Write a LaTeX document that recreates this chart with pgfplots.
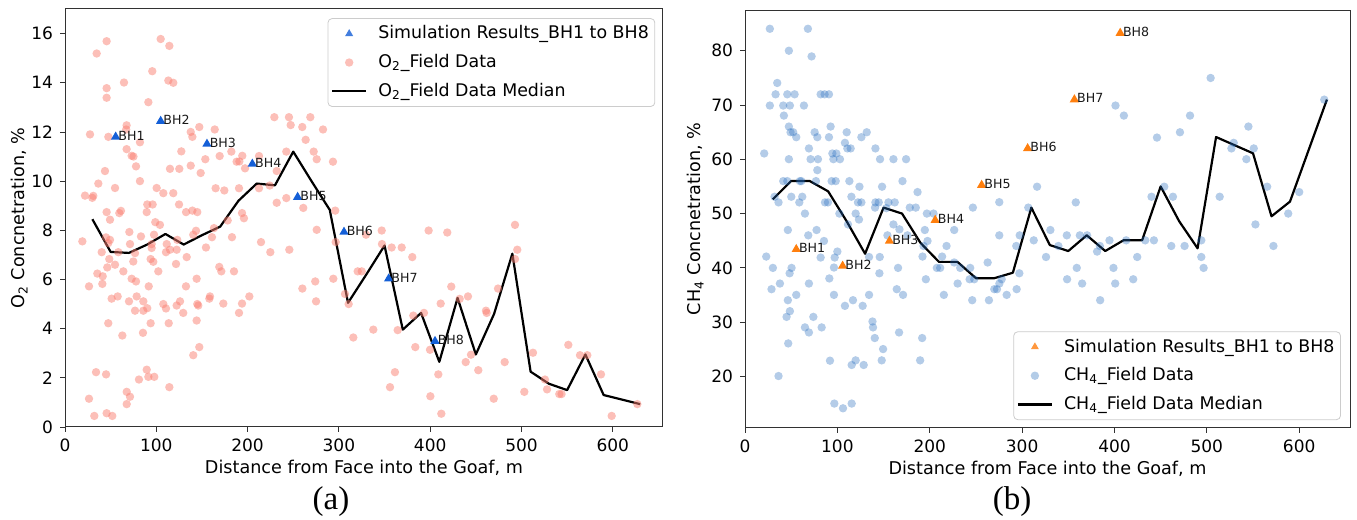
\documentclass[border=0pt]{standalone}
\usepackage{fontspec}
\setmainfont{DejaVu Sans}
\newfontfamily\serifpanel{Liberation Serif}
\usepackage{pgfplots}
\pgfplotsset{compat=1.18}
\definecolor{simblue}{RGB}{20,95,215}
\definecolor{simorange}{RGB}{255,127,14}
\definecolor{salmonc}{RGB}{250,128,114}
\definecolor{tabblue}{RGB}{40,110,190}
\definecolor{spine}{RGB}{50,50,50}
\newcommand{\tickfs}{\fontsize{8.5}{10}\selectfont}
\newcommand{\labfs}{\fontsize{8.8}{10}\selectfont}
\newcommand{\legfs}{\fontsize{8.7}{10}\selectfont}
\pgfplotsset{
  gstyle/.style={
    scale only axis, anchor=south west,
    xmin=0, xmax=655,
    xtick={0,100,...,600},
    tick align=outside, xtick pos=bottom, ytick pos=left,
    major tick length=2.5pt,
    tick style={spine, line width=0.4pt},
    axis line style={spine, line width=0.5pt},
    every tick label/.append style={font=\tickfs},
    label style={font=\labfs},
    xlabel style={yshift=3pt},
    /pgf/number format/assume math mode=true,
    xlabel={Distance from Face into the Goaf, m},
    legend cell align=left,
    clip=false,
  },
  legstyle/.style={draw=black!20, rounded corners=2pt,
    fill=white, fill opacity=0.8, text opacity=1, font=\legfs,
    inner xsep=1.5pt, inner ysep=2pt, nodes={inner xsep=1.5pt, inner ysep=1.5pt},
    column sep=4pt, row sep=3.3pt},
  fieldstyle/.style 2 args={only marks, mark=*, mark size=2.1pt, color=#1,
    mark options={draw opacity=0, fill=#1, fill opacity=#2}},
  simstyle/.style={only marks, mark=triangle*, mark size=2.7pt, color=#1,
    mark options={draw opacity=0, fill=#1},
    nodes near coords, point meta=explicit symbolic,
    every node near coord/.append style={anchor=west, font=\fontsize{6.3}{7}\selectfont, inner sep=0pt, xshift=1.2pt, yshift=0.6pt, text=black!90}},
  medstyle/.style={black, line width=1.1pt, no markers, line join=round},
}
\begin{document}
\begin{tikzpicture}
\path[use as bounding box] (0,0) rectangle (678.5pt,260pt);
% ---------------- (a) O2 ----------------
\begin{axis}[gstyle, at={(32.5pt,46.5pt)}, width=299pt, height=209pt,
  ymin=0, ymax=17, ytick={0,2,...,16},
  ylabel={O\textsubscript{2} Concnetration, \%}, ylabel shift=-5pt,
  legend style={legstyle, at={(0.987,0.978)}, anchor=north east},
]
\addplot[fieldstyle={salmonc}{0.5}, forget plot] table {
x y
45.6 15.69
34.7 15.19
104.8 15.78
114.3 15.5
95.6 14.47
113.2 14.09
118.6 14.0
64.6 14.01
45.6 13.78
45.6 13.39
91.3 13.21
67.5 12.27
67.0 12.1
27.4 11.9
47.5 11.8
82.1 11.58
147.1 12.2
164.0 12.1
137.7 12.0
139.5 11.8
67.5 11.3
73.0 11.03
75.0 11.0
77.8 10.6
43.8 10.41
82.1 10.0
36.5 9.9
54.8 9.72
21.9 9.41
29.9 9.32
31.0 9.4
100.4 9.72
107.7 9.51
118.6 9.51
90.1 9.05
96.0 9.05
124.9 9.05
132.6 8.74
139.5 8.8
144.9 8.74
45.6 8.74
61.3 8.79
59.5 8.7
89.5 8.74
115.0 10.5
125.2 10.5
137.7 10.63
148.6 10.33
127.4 11.21
153.7 10.89
169.4 11.02
182.2 11.2
188.0 10.79
191.0 10.8
194.2 11.03
197.2 10.52
212.5 11.02
165.0 9.71
174.5 9.62
190.6 9.71
212.5 9.71
224.2 9.82
231.9 10.41
242.4 11.2
229.3 12.6
245.3 12.6
247.2 12.28
268.7 12.6
259.9 12.2
263.6 11.68
282.6 12.1
272.4 11.2
275.7 10.89
293.5 10.79
231.9 9.12
242.4 9.31
261.0 8.91
296.0 8.8
19.0 7.55
49.3 8.43
98.9 8.33
104.0 8.22
70.5 7.93
83.2 7.75
44.9 7.71
49.3 7.61
47.4 7.48
71.2 7.44
94.9 7.44
94.9 7.28
97.5 7.82
111.4 7.44
123.0 7.61
143.5 7.98
140.5 7.82
163.2 8.09
161.0 7.72
178.2 8.4
193.9 8.7
196.0 8.49
182.9 7.72
40.2 7.11
58.4 7.11
76.7 7.07
74.8 6.73
48.5 6.83
46.3 6.49
54.8 6.6
63.9 6.33
35.4 6.24
41.3 6.13
40.9 5.82
26.3 5.72
73.0 6.03
77.8 5.92
93.8 6.83
96.7 6.72
115.0 7.21
122.3 7.21
110.6 7.11
121.6 6.63
133.3 6.91
102.2 6.33
91.7 5.72
144.2 6.03
132.5 5.72
154.4 7.3
169.0 6.51
171.2 6.33
185.1 6.33
51.1 5.22
57.7 5.31
70.1 5.11
78.5 5.31
85.8 5.11
76.7 4.73
85.8 4.73
90.1 4.83
107.7 5.0
110.6 4.82
122.3 4.94
126.0 5.11
129.5 4.64
144.9 5.0
146.0 4.94
158.8 5.31
158.1 5.22
173.4 5.02
193.9 5.02
190.6 4.64
201.9 5.31
47.4 4.22
93.8 4.22
113.6 4.22
144.2 4.33
62.8 3.72
85.4 3.83
147.1 3.25
140.5 2.92
34.0 2.23
45.0 2.14
89.5 2.33
91.3 2.04
97.8 2.04
81.0 1.93
114.3 1.62
67.6 1.43
71.2 1.23
67.6 0.93
26.3 1.15
32.1 0.45
45.6 0.56
51.8 0.45
214.7 7.52
224.9 7.11
245.7 7.21
275.7 8.02
296.5 7.52
260.0 5.63
274.1 5.92
275.0 5.11
293.9 6.03
306.7 5.41
310.7 5.0
315.8 3.64
320.6 6.33
346.9 7.99
329.7 7.82
347.2 7.44
357.8 7.3
368.8 7.3
380.4 6.91
398.3 7.99
418.7 7.91
492.9 8.22
495.4 7.21
492.9 6.83
325.0 6.33
423.1 5.71
474.3 5.63
432.3 5.21
441.4 5.31
411.5 5.02
461.1 4.73
461.9 4.64
393.2 4.64
381.5 4.53
364.4 3.94
337.7 3.96
383.7 3.25
399.8 3.14
444.7 2.94
438.9 2.64
452.7 2.31
481.6 2.64
512.6 3.02
551.3 3.34
564.1 2.92
572.1 2.92
587.1 2.14
525.7 1.93
528.0 1.53
541.4 1.34
543.9 1.34
503.1 1.43
469.6 1.15
400.2 1.25
408.9 2.14
361.4 2.23
356.0 1.62
412.2 0.54
598.8 0.45
626.9 0.93
};
\addplot[medstyle, forget plot] table {
x y
30 8.45
50 7.12
70 7.08
90 7.42
110 7.85
130 7.42
150 7.80
170 8.15
190 9.20
210 9.90
230 9.83
250 11.2
270 10.0
290 8.83
310 5.05
330 6.20
350 7.38
370 3.96
390 4.64
410 2.65
430 5.25
450 2.95
470 4.60
490 7.05
510 2.25
530 1.76
550 1.50
570 2.95
590 1.30
630 0.93
};
\addplot[simstyle=simblue, forget plot] table[meta=label] {
x y label
55.5 11.80 BH1
104.8 12.44 BH2
155.5 11.51 BH3
205.2 10.70 BH4
254.8 9.35 BH5
305.6 7.93 BH6
354.5 6.03 BH7
405.3 3.49 BH8
};
\addlegendimage{only marks, mark=triangle*, mark size=2.3pt, color=simblue, mark options={draw opacity=0, fill=simblue}}
\addlegendentry{Simulation Results\_BH1 to BH8}
\addlegendimage{only marks, mark=*, mark size=2.1pt, color=salmonc, mark options={draw opacity=0, fill=salmonc, fill opacity=0.5}}
\addlegendentry{O\textsubscript{2}\_Field Data}
\addlegendimage{black, line width=1.1pt}
\addlegendentry{O\textsubscript{2}\_Field Data Median}
\end{axis}
% ---------------- (b) CH4 ----------------
\begin{axis}[gstyle, at={(372.5pt,46pt)}, width=302.5pt, height=209pt,
  ymin=10.5, ymax=87.5, ytick={20,30,...,80},
  ylabel={CH\textsubscript{4} Concnetration, \%}, ylabel shift=-3pt,
  legend style={legstyle, at={(0.985,0.019)}, anchor=south east},
]
\addplot[fieldstyle={tabblue}{0.35}, forget plot] table {
x y
26.9 84.04
68.1 84.04
47.5 80
72.1 78.95
34.9 74.06
33.1 71.97
45.8 71.97
53.7 71.97
81.9 71.97
86.2 71.97
90.9 71.97
26.9 69.9
41.4 69.9
48.6 69.9
63.8 69.9
42.1 68.05
47.5 66.03
49.3 64.98
52.2 64.98
55.5 64.07
75.4 64.98
78.3 64.07
92.7 66.03
90.9 64.07
110.1 64.98
108.2 63.03
110.8 62
114.4 62
131.8 64.98
126.0 64.07
141.2 62
20.8 61.07
69.2 62
47.5 60.02
71.0 60.02
79.0 60.02
94.6 61.07
98.9 61.07
95.7 60.02
102.8 60.02
146.2 60.02
160.7 60.02
174.4 60.02
78.3 58
41.4 55.98
45.8 55.98
59.4 55.98
61.0 55.98
76.8 55.98
93.8 55.98
98.2 55.98
113.0 55.98
170.5 55.98
123.9 54.95
148.4 54.95
186.8 53.96
32.0 53.1
36.3 52.06
50.1 53.1
62.0 53.1
58.8 52.06
86.6 52.06
89.8 52.06
115.2 53.1
122.3 52.06
126.0 52.06
141.2 52.06
144.8 52.06
155.3 52.06
162.1 52.06
178.4 51.1
184.9 51.1
140.8 51.1
153.0 51.0
64.9 50
102.2 50
119.8 50
196.9 50
204.1 50
246.7 51.1
275.3 52.1
316.2 54.95
306.7 51.1
358.1 52.06
401.1 69.9
410.2 68.05
504.1 74.98
481.8 68.05
446.0 64.0
470.9 64.98
545.0 66.03
529.1 63.03
526.6 62
550.8 62
542.8 60.02
627.1 70.99
565.3 54.95
600.0 53.96
453.9 54.95
440.1 53.1
463.3 53.1
513.9 53.1
588.1 50
111.5 48.0
123.4 48.9
160.7 48.0
46.4 46.97
77.5 46.97
68.5 45.99
85.5 44.95
100.0 43.0
97.1 41.9
81.9 41.9
154.2 45.99
167.2 47.1
175.9 45.99
194.7 46.97
197.6 44.95
193.3 44.03
218.2 44.03
226.5 46.97
23.0 42.08
30.2 39.99
50.4 39.99
48.3 39.0
37.8 37.11
28.7 36.07
69.2 37.11
55.5 35.02
46.4 34.04
48.6 32.02
45.0 30.97
74.0 30.97
64.9 29.03
69.2 28.1
83.0 29.03
46.8 26.08
36.3 20.07
91.3 38.05
96.3 35.02
108.2 33.0
116.9 34.04
127.4 33.0
134.3 35.02
96.3 40.06
134.3 42.0
145.9 42.0
145.5 39.0
165.7 39.99
164.3 36.07
171.1 35.02
138.0 30.12
138.6 29.03
140.5 27.07
149.5 25.04
148.0 22.96
92.0 22.9
115.5 22.11
119.8 22.96
128.5 22.11
166.8 28.1
191.8 27.07
189.6 22.96
96.7 15.0
106.1 14.13
115.5 15.0
192.2 42.08
195.8 37.9
207.7 39.99
211.3 39.99
213.4 42.08
215.3 35.02
230.2 37.11
226.5 40.99
233.0 39.99
243.8 39.99
243.2 37.9
248.2 37.9
246.0 34.04
262.7 40.99
264.1 34.04
269.9 36.07
272.8 36.07
275.4 37.11
277.9 37.9
283.3 35.02
294.1 36.07
293.7 44.03
297.4 45.99
312.6 45.07
275.3 45.99
297.0 39.0
330.6 46.97
339.3 44.03
325.9 42.0
348.4 45.99
362.5 45.99
370.4 45.99
359.2 39.99
348.7 37.9
365.0 37.11
381.2 43.0
384.2 44.03
384.5 34.04
394.6 45.07
398.9 39.99
400.8 37.11
412.7 45.07
424.6 42.0
420.3 37.9
433.3 45.07
442.7 45.07
461.5 44.03
475.9 44.03
494.0 45.07
494.0 42.0
496.5 39.99
552.6 48.0
572.1 44.03
};
\addplot[medstyle, forget plot] table {
x y
30 52.6
50 56.0
70 56.0
90 54.1
110 48.6
130 42.6
150 51.1
170 50.0
190 44.6
210 41.1
230 41.1
250 38.1
270 38.1
290 39.1
310 51.1
330 44.2
350 43.1
370 46.0
390 43.1
410 45.1
430 45.1
450 55.0
470 48.6
490 43.6
510 64.1
530 62.6
550 61.1
570 49.5
590 52.2
630 71.0
};
\addplot[simstyle=simorange, forget plot] table[meta=label] {
x y label
55.5 43.42 BH1
105.7 40.35 BH2
156.4 44.95 BH3
205.9 48.80 BH4
256.2 55.24 BH5
306.0 62.00 BH6
356.6 71.00 BH7
406.2 83.25 BH8
};
\addlegendimage{only marks, mark=triangle*, mark size=2.3pt, color=simorange, mark options={draw opacity=0, fill=simorange}}
\addlegendentry{Simulation Results\_BH1 to BH8}
\addlegendimage{only marks, mark=*, mark size=2.1pt, color=tabblue, mark options={draw opacity=0, fill=tabblue, fill opacity=0.35}}
\addlegendentry{CH\textsubscript{4}\_Field Data}
\addlegendimage{black, line width=1.1pt}
\addlegendentry{CH\textsubscript{4}\_Field Data Median}
\end{axis}
\node[font=\serifpanel\fontsize{16.5}{18}\selectfont] at (165.5pt,9pt) {(a)};
\node[font=\serifpanel\fontsize{16.5}{18}\selectfont] at (506pt,9pt) {(b)};
\end{tikzpicture}
\end{document}
